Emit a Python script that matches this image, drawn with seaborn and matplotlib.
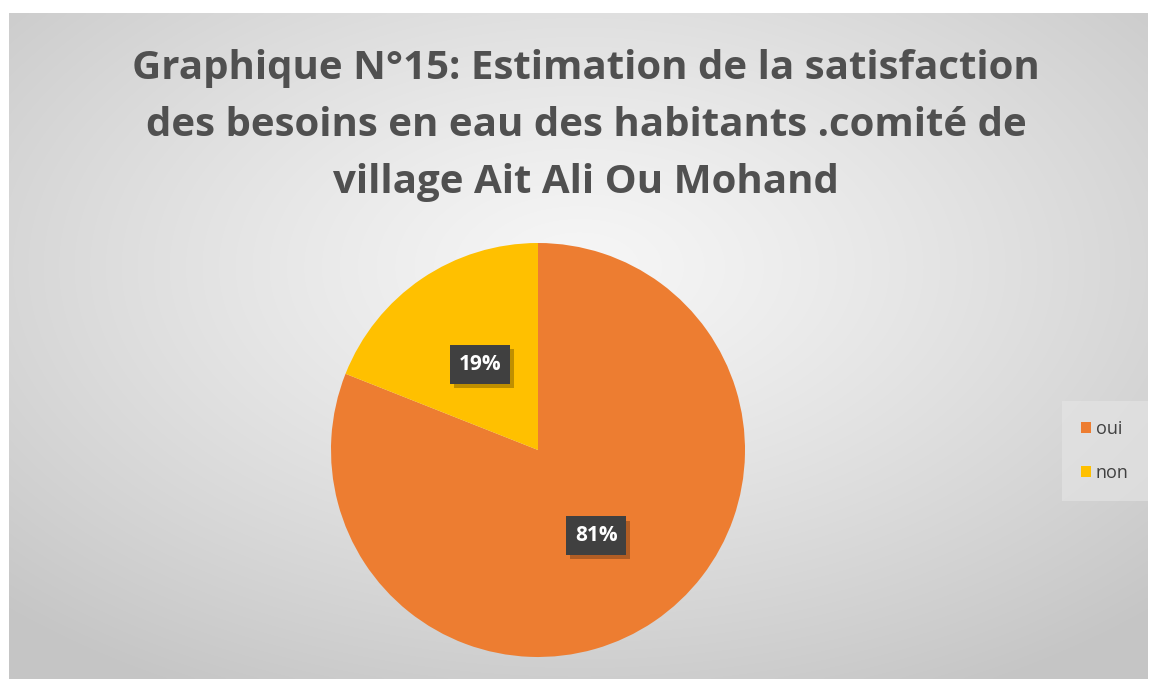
import numpy as np
import matplotlib
matplotlib.use("Agg")
import matplotlib.pyplot as plt
import matplotlib.patheffects as pe
from matplotlib.patches import Patch
import seaborn as sns

# data
categories = ["oui", "non"]
shares = [81, 19]
colors = ["#ED7D31", "#FFC000"]
title = ("Graphique N°15: Estimation de la satisfaction\n"
         "des besoins en eau des habitants .comité de\n"
         "village Ait Ali Ou Mohand")

sns.set_theme(style="white")
plt.rcParams['font.family'] = ['Open Sans', 'DejaVu Sans']

W, H = 1150, 679
fig = plt.figure(figsize=(W / 100, H / 100), dpi=100)
fig.patch.set_facecolor("white")

# gradient background of the chart area
bg = fig.add_axes([9 / W, 0, (W - 11) / W, (H - 13) / H])
yy, xx = np.mgrid[0:300, 0:500]
cx, cy = 0.50 * 500, 0.38 * 300
d = np.sqrt(((xx - cx) / 500) ** 2 + ((yy - cy) / 300) ** 2)
shade = 0.965 - 0.19 * np.clip(d / 0.72, 0, 1) ** 1.2
bg.imshow(np.dstack([shade] * 3), aspect="auto", extent=[0, 1, 0, 1],
          interpolation="bilinear")
bg.set_axis_off()

fig.text(586 / W, 1 - 126 / H, title, ha="center", va="center",
         fontsize=29, fontweight="bold", color="#505050", linespacing=1.6)

# pie
cxp, cyp, r = 538, 450, 207
ax = fig.add_axes([(cxp - r) / W, (H - cyp - r) / H, 2 * r / W, 2 * r / H])
wedges, texts, autotexts = ax.pie(shares, colors=colors, startangle=90,
                                  counterclock=False, autopct="%d%%",
                                  pctdistance=0.5, radius=1,
                                  wedgeprops=dict(linewidth=0))
ax.set_xlim(-1, 1)
ax.set_ylim(-1, 1)
ax.set_aspect("equal")
ax.set_axis_off()
for t in autotexts:
    t.set_color("white")
    t.set_fontweight("bold")
    t.set_fontsize(15)
    t.set_bbox(dict(boxstyle="square,pad=0.42", facecolor="#404040",
                    edgecolor="none"))
    t.get_bbox_patch().set_path_effects(
        [pe.withSimplePatchShadow(offset=(3, -3), shadow_rgbFace="black", alpha=0.25)])

handles = [Patch(facecolor=c, edgecolor="none") for c in colors]
leg = fig.legend(handles, categories, loc="center left",
                 bbox_to_anchor=(1067 / W, 1 - 451 / H), frameon=True,
                 fontsize=13, handlelength=0.6, handleheight=0.6,
                 handletextpad=0.25, labelspacing=1.45, borderpad=0.75,
                 borderaxespad=0)
leg.get_frame().set_facecolor("#e6e6e6")
leg.get_frame().set_alpha(0.6)
leg.get_frame().set_edgecolor("none")
leg.get_frame().set_boxstyle("square")
for t in leg.get_texts():
    t.set_color("#404040")

fig.savefig("out.png", dpi=100)
